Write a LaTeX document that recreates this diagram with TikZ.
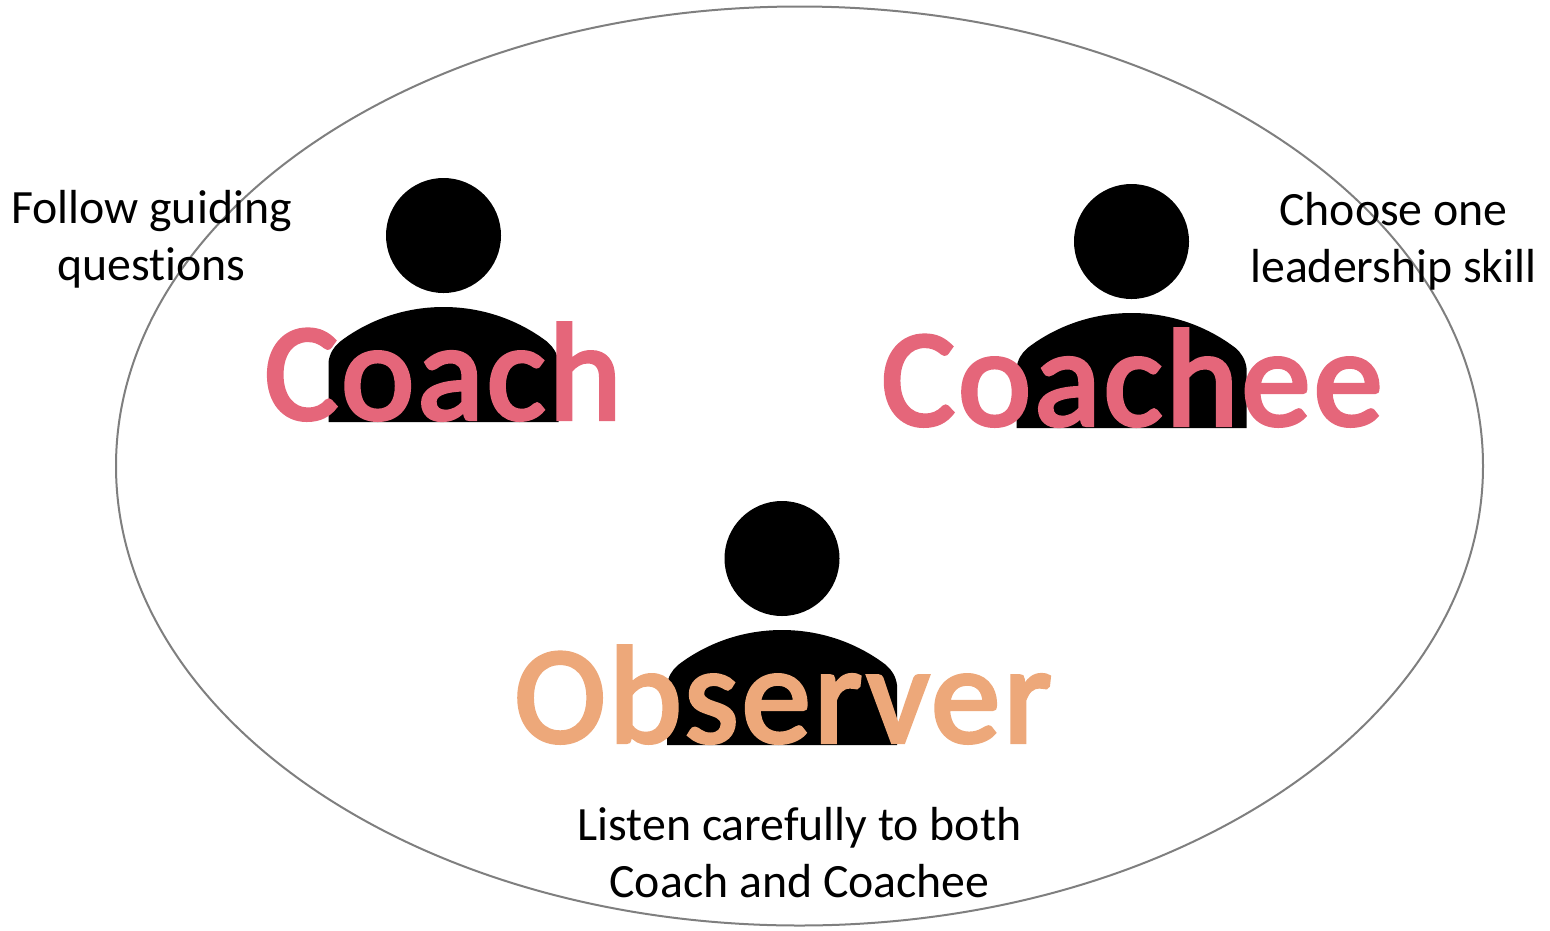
\documentclass[tikz,border=0pt]{standalone}
\usepackage{fontspec}
\setmainfont[RawFeature=-liga]{Carlito}
\newfontfamily\rolefont[RawFeature={embolden=3},LetterSpace=2.5]{Carlito}
\usetikzlibrary{shapes.geometric}
\definecolor{pinkw}{HTML}{E5667A}
\definecolor{orw}{HTML}{EDA87A}
\definecolor{ringc}{HTML}{7F7F7F}
\tikzset{
 ring/.style={draw=ringc,line width=2pt,ellipse,minimum width=1367pt,minimum height=919pt,inner sep=0pt},
 headc/.style={circle,fill=black,minimum size=115pt,inner sep=0pt},
 caption/.style={font=\fontsize{47.8}{57}\selectfont,align=center,text=black,inner sep=0pt},
 rolea/.style={font=\fontsize{138}{138}\rolefont,text=pinkw,inner sep=0pt,anchor=base},
 roleb/.style={font=\fontsize{138}{138}\rolefont,text=orw,inner sep=0pt,anchor=base},
}
\newcommand{\person}[2]{%
 \fill[black] (#1-115,-#2-422) -- (#1-115,-#2-362) .. controls (#1-114,-#2-354) and (#1-110,-#2-347) .. (#1-104,-#2-342) .. controls (#1-78,-#2-322) and (#1-42,-#2-307) .. (#1,-#2-307) .. controls (#1+42,-#2-307) and (#1+78,-#2-322) .. (#1+104,-#2-342) .. controls (#1+110,-#2-347) and (#1+114,-#2-354) .. (#1+115,-#2-362) -- (#1+115,-#2-422) -- cycle;}
\begin{document}
\begin{tikzpicture}[x=1pt,y=1pt]
\useasboundingbox (0,0) rectangle (1550,-930);
\node[ring] (r) at (799.5,-466) {};
\node[headc] (h1) at (443.5,-235.5) {};
\node[headc] (h2) at (1131.5,-241.5) {};
\node[headc] (h3) at (782,-558.5) {};
\person{443.5}{0}
\person{1131.5}{6}
\person{782}{323}
\node[rolea] (c1) at (443,-419) {Coach};
\node[rolea] (c2) at (1132,-425) {Coachee};
\node[roleb] (c3) at (783,-742) {Observer};
\node[caption] (t1) at (151.5,-239) {Follow guiding\\questions};
\node[caption] (t2) at (1393.5,-241) {Choose one\\leadership skill};
\node[caption] (t3) at (799.5,-853) {Listen carefully to both\\Coach and Coachee};
\end{tikzpicture}
\end{document}
